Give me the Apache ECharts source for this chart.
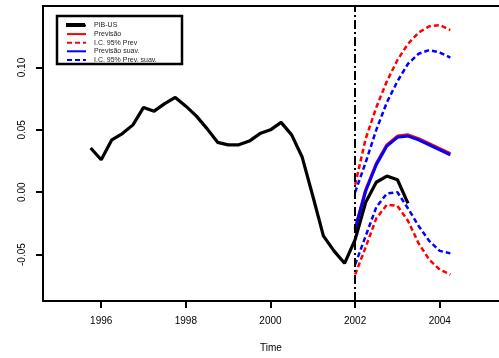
<!DOCTYPE html>
<html>
<head>
<meta charset="utf-8">
<script src="https://cdn.jsdelivr.net/npm/echarts@6/dist/echarts.min.js"></script>
<style>html,body{margin:0;padding:0;background:#fff;}#c{width:499px;height:358px;}</style>
</head>
<body>
<div id="c"></div>
<script>
const obsTime = [1995.75,1996.0,1996.25,1996.5,1996.75,1997.0,1997.25,1997.5,1997.75,1998.0,1998.25,1998.5,1998.75,1999.0,1999.25,1999.5,1999.75,2000.0,2000.25,2000.5,2000.75,2001.0,2001.25,2001.5,2001.75,2002.0,2002.25,2002.5,2002.75,2003.0,2003.25];
const obsValues = [0.0355,0.026,0.042,0.047,0.054,0.068,0.065,0.071,0.076,0.069,0.061,0.051,0.040,0.038,0.038,0.041,0.047,0.050,0.056,0.046,0.028,-0.003,-0.035,-0.047,-0.057,-0.038,-0.008,0.008,0.013,0.010,-0.009];
const fcTime = [2002.0,2002.25,2002.5,2002.75,2003.0,2003.25,2003.5,2003.75,2004.0,2004.25];
const redMean = [-0.029,0.002,0.023,0.038,0.045,0.046,0.043,0.039,0.035,0.031];
const redUpper = [0.006,0.043,0.068,0.089,0.106,0.119,0.128,0.133,0.134,0.130];
const redLower = [-0.066,-0.044,-0.021,-0.010,-0.011,-0.023,-0.041,-0.054,-0.062,-0.066];
const blueMean = [-0.030,0.001,0.022,0.037,0.044,0.045,0.042,0.038,0.034,0.030];
const blueUpper = [0.000,0.024,0.050,0.072,0.089,0.103,0.111,0.114,0.112,0.108];
const blueLower = [-0.058,-0.035,-0.012,-0.001,0.000,-0.013,-0.027,-0.039,-0.047,-0.049];
const xTicks = [1996,1998,2000,2002,2004];
const xTickLabels = ['1996','1998','2000','2002','2004'];
const yTicks = [-0.05,0.00,0.05,0.10];
const yTickLabels = ['-0.05','0.00','0.05','0.10'];
const names = ['PIB-US','Previsão','I.C. 95% Prev','Previsão suav.','I.C. 95% Prev. suav.'];
const forecastStart = 2002;

function pairs(xs, ys){ return xs.map((x,i)=>[x, ys[i]]); }
function pick(ticks, labels){ return function(v){ const i = ticks.findIndex(t=>Math.abs(t-v)<1e-9); return i>=0?labels[i]:''; }; }

const chart = echarts.init(document.getElementById('c'));
const font = 'Liberation Sans, Arial, sans-serif';
function lineSeries(name, data, color, width, type, z){
  return {name, type:'line', data, symbol:'none', smooth:false, z:z||2,
    lineStyle:{color, width, type}, itemStyle:{color}, animation:false};
}
const series = [
  lineSeries(names[1], pairs(fcTime, redMean), '#ff0000', 3, 'solid', 3),
  lineSeries(names[2], pairs(fcTime, redUpper), '#ff0000', 2.5, [5,3], 2),
  lineSeries(names[3], pairs(fcTime, blueMean), '#0000ff', 3, 'solid', 4),
  lineSeries(names[4], pairs(fcTime, blueUpper), '#0000ff', 2.5, [5,3], 2),
  lineSeries(names[2]+'_l', pairs(fcTime, redLower), '#ff0000', 2.5, [5,3], 2),
  lineSeries(names[4]+'_l', pairs(fcTime, blueLower), '#0000ff', 2.5, [5,3], 2),
];
const obs = lineSeries(names[0], pairs(obsTime, obsValues), '#000000', 3.2, 'solid', 5);
obs.markLine = {silent:true, symbol:'none', label:{show:false}, animation:false,
  lineStyle:{color:'#000', width:2, type:[9,3,2,3]}, data:[{xAxis: forecastStart}]};
series.unshift(obs);

chart.setOption({
  animation:false,
  backgroundColor:'#fff',
  grid:{left:43, top:6, right:-6, bottom:55, show:false},
  legend:{show:true, orient:'vertical', left:66, top:22, itemWidth:19, itemHeight:6, itemGap:1.6,
    padding:0, data:names, itemStyle:{opacity:0}, selectedMode:false,
    textStyle:{fontSize:7, fontFamily:font, color:'#222', padding:[0,0,0,3]}},
  graphic:[
    {type:'rect', shape:{x:57, y:16, width:125, height:48}, style:{fill:null, stroke:'#000', lineWidth:2.5}, z:10},
    {type:'line', shape:{x1:42, y1:6, x2:499, y2:6}, style:{stroke:'#000', lineWidth:2}, z:10},
    {type:'rect', shape:{x:66, y:23, width:19, height:4}, style:{fill:'#000'}, z:10}
  ],
  xAxis:{type:'value', min:1994.624, max:2005.4,
    name:'Time', nameLocation:'middle', nameGap:42, nameTextStyle:{fontSize:10, fontFamily:font, color:'#000'},
    axisLine:{show:true, onZero:false, lineStyle:{color:'#000', width:2}},
    axisTick:{show:true, length:7, lineStyle:{color:'#000', width:2}, customValues:xTicks},
    axisLabel:{show:true, customValues:xTicks, fontSize:10, fontFamily:font, color:'#000', margin:15,
      formatter:pick(xTicks, xTickLabels)},
    splitLine:{show:false}},
  yAxis:{type:'value', min:-0.0872, max:0.1493,
    axisLine:{show:true, onZero:false, lineStyle:{color:'#000', width:2}},
    axisTick:{show:true, length:7, lineStyle:{color:'#000', width:2}, customValues:yTicks},
    axisLabel:{show:true, customValues:yTicks, rotate:90, fontSize:10, fontFamily:font, color:'#000', margin:16,
      formatter:pick(yTicks, yTickLabels)},
    splitLine:{show:false}},
  series
});
</script>
</body>
</html>
